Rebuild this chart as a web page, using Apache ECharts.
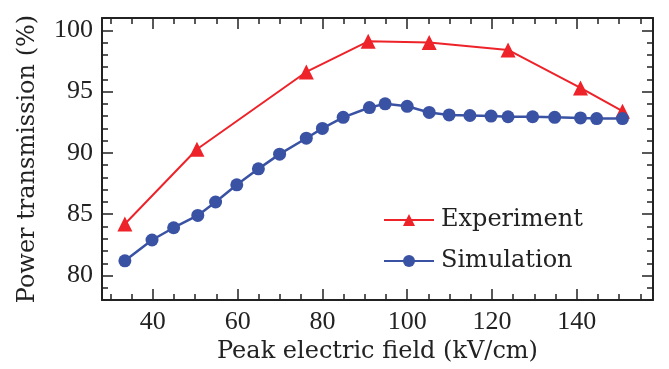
<!DOCTYPE html>
<html>
<head>
<meta charset="utf-8">
<script src="https://cdn.jsdelivr.net/npm/echarts@6/dist/echarts.min.js"></script>
<style>
  html, body { margin: 0; padding: 0; background: #fff; }
  #chart { width: 669px; height: 369px; }
</style>
</head>
<body>
<div id="chart"></div>
<script>
const expField = [33.4, 50.4, 76.2, 90.8, 105.2, 123.8, 140.9, 150.8];
const expTrans = [84.2, 90.3, 96.6, 99.1, 99.0, 98.4, 95.3, 93.4];

const simField = [33.4, 39.8, 44.9, 50.6, 54.8, 59.8, 64.9, 69.9, 76.2, 80.0, 84.9, 91.1,
  94.8, 100.0, 105.2, 109.9, 114.8, 119.8, 123.8, 129.6, 134.8, 140.9, 144.7, 150.8];
const simTrans = [81.2, 82.9, 83.9, 84.9, 86.0, 87.4, 88.7, 89.9, 91.2, 92.0, 92.9, 93.7,
  94.0, 93.8, 93.3, 93.1, 93.05, 93.0, 92.95, 92.95, 92.9, 92.85, 92.8, 92.8];

// tick positions
const xMajor = [40, 60, 80, 100, 120, 140];
const xMinor = [30, 35, 45, 50, 55, 65, 70, 75, 85, 90, 95, 105, 110, 115, 125, 130, 135, 145, 150, 155];
const yMajor = [80, 85, 90, 95, 100];
const yMinor = [78, 79, 81, 82, 83, 84, 86, 87, 88, 89, 91, 92, 93, 94, 96, 97, 98, 99, 101];

const X_MIN = 28, X_MAX = 158, Y_MIN = 78, Y_MAX = 101;
const ink = "#222";
const tickFont = { fontFamily: "Liberation Serif", fontSize: 26, color: ink };
const nameFont = { fontFamily: "DejaVu Serif", fontSize: 24, color: ink };

function frameAxis(pos, min, max, ticks, len, showLine, extra) {
  return Object.assign({
    type: "value",
    position: pos,
    min: min,
    max: max,
    axisLine: { show: showLine, onZero: false, lineStyle: { color: ink, width: 2 } },
    axisTick: { show: true, inside: true, length: len, customValues: ticks, lineStyle: { color: ink, width: 1.5 } },
    axisLabel: { show: false },
    splitLine: { show: false },
  }, extra || {});
}

const chart = echarts.init(document.getElementById("chart"), null, { renderer: "canvas" });

chart.setOption({
  animation: false,
  grid: { left: 102, right: 16, top: 18, bottom: 67 },
  xAxis: [
    frameAxis("bottom", X_MIN, X_MAX, xMajor, 11, true, {
      name: "Peak electric field (kV/cm)",
      nameLocation: "middle",
      nameGap: 37,
      nameTextStyle: nameFont,
      axisLabel: { show: true, customValues: xMajor, margin: 9, ...tickFont },
    }),
    frameAxis("bottom", X_MIN, X_MAX, xMinor, 6, false),
    frameAxis("top", X_MIN, X_MAX, xMajor, 11, true),
    frameAxis("top", X_MIN, X_MAX, xMinor, 6, false),
  ],
  yAxis: [
    frameAxis("left", Y_MIN, Y_MAX, yMajor, 11, true, {
      name: "Power transmission (%)",
      nameLocation: "middle",
      nameGap: 62,
      nameTextStyle: nameFont,
      axisLabel: { show: true, customValues: yMajor, margin: 9, ...tickFont },
    }),
    frameAxis("left", Y_MIN, Y_MAX, yMinor, 6, false),
    frameAxis("right", Y_MIN, Y_MAX, yMajor, 11, true),
    frameAxis("right", Y_MIN, Y_MAX, yMinor, 6, false),
  ],
  legend: {
    orient: "vertical",
    left: 378,
    top: 203,
    itemWidth: 50,
    itemHeight: 15,
    itemGap: 17,
    textStyle: { ...nameFont, padding: [0, 0, 0, 2] },
    data: ["Experiment", "Simulation"],
  },
  series: [
    {
      name: "Experiment",
      type: "line",
      data: expField.map((x, i) => [x, expTrans[i]]),
      symbol: "triangle",
      symbolSize: 15,
      color: "#ee2229",
      lineStyle: { width: 2 },
      z: 3,
    },
    {
      name: "Simulation",
      type: "line",
      data: simField.map((x, i) => [x, simTrans[i]]),
      symbol: "circle",
      symbolSize: 13,
      color: "#3a52a3",
      lineStyle: { width: 2.5 },
      z: 4,
    },
  ],
});
</script>
</body>
</html>
